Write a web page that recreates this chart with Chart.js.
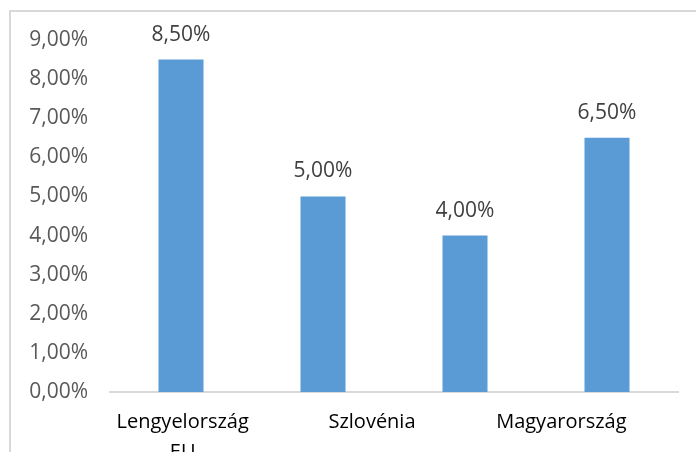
<!DOCTYPE html>
<html>
<head>
<meta charset="utf-8">
<script src="https://cdn.jsdelivr.net/npm/chart.js@4"></script>
<style>
    html, body { margin: 0; padding: 0; background: #fff; }
    #wrap { position: relative; width: 696px; height: 452px; overflow: hidden; }
    #frame { position: absolute; left: 9px; top: 10px; width: 720px; height: 460px;
             border-left: 2px solid #d9d9d9; border-top: 2px solid #d9d9d9; }
    canvas { position: absolute; left: 0; top: 0; }
</style>
</head>
<body>
<div id="wrap">
    <div id="frame"></div>
    <canvas id="chart" width="696" height="452"></canvas>
</div>
<script>
// chart data
const barCategories = ['Lengyelország', 'EU', 'Szlovénia', 'Magyarország'];
const axisLabels = [['Lengyelország', 'EU'], 'Szlovénia', 'Magyarország'];
const values = [8.5, 5.0, 4.0, 6.5];
const yTicks = [0, 1, 2, 3, 4, 5, 6, 7, 8, 9];

const fmt = v => v.toFixed(2).replace('.', ',') + '%';

// value labels above the bars
const barLabels = {
    id: 'barLabels',
    afterDatasetsDraw(chart) {
        const ctx = chart.ctx;
        const meta = chart.getDatasetMeta(0);
        ctx.save();
        ctx.font = '21px "Open Sans"';
        ctx.fillStyle = '#404040';
        ctx.textAlign = 'center';
        ctx.textBaseline = 'middle';
        meta.data.forEach((bar, i) => {
            ctx.fillText(fmt(values[i]), bar.x, bar.y - 25);
        });
        ctx.restore();
    }
};

new Chart(document.getElementById('chart'), {
    type: 'bar',
    data: {
        labels: barCategories,
        datasets: [{
            data: values,
            backgroundColor: '#5b9bd5',
            borderWidth: 0,
            barPercentage: 0.317,
            categoryPercentage: 1
        }]
    },
    options: {
        responsive: false,
        animation: false,
        layout: { padding: { top: 40, right: 18, bottom: 0, left: 0 } },
        plugins: { legend: { display: false }, tooltip: { enabled: false } },
        scales: {
            y: {
                min: 0,
                max: 9,
                afterFit: s => { s.width = 110; },
                afterBuildTicks: s => { s.ticks = yTicks.map(v => ({ value: v })); },
                grid: { display: false, drawTicks: false },
                border: { display: false },
                ticks: {
                    padding: 22,
                    color: '#595959',
                    font: { family: 'Open Sans', size: 21 },
                    callback: v => fmt(v)
                }
            },
            x: {
                offset: true,
                afterFit: s => { s.height = 0; },
                grid: { display: false, drawTicks: false },
                border: { display: true, color: '#d9d9d9', width: 2 },
                ticks: { display: false }
            },
            x2: {
                type: 'category',
                position: 'bottom',
                labels: axisLabels,
                offset: true,
                afterFit: s => { s.height = 60; },
                grid: { display: false, drawTicks: false },
                border: { display: false },
                ticks: {
                    padding: 15,
                    labelOffset: -22,
                    maxRotation: 0,
                    autoSkip: false,
                    color: '#000000',
                    font: { family: 'Open Sans', size: 20, lineHeight: 1.5 }
                }
            }
        }
    },
    plugins: [barLabels]
});
</script>
</body>
</html>
